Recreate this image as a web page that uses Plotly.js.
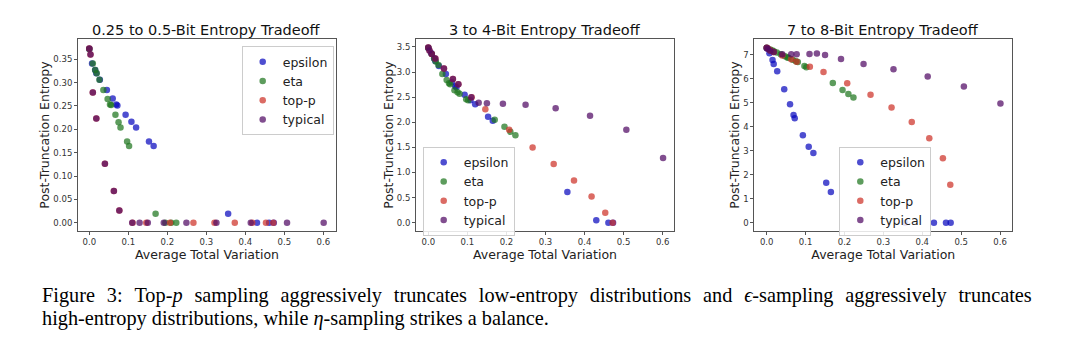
<!DOCTYPE html>
<html>
<head>
<meta charset="utf-8">
<script src="https://cdn.plot.ly/plotly-3.0.1.min.js"></script>
<style>html,body{margin:0;padding:0;background:#fff;}#chart{width:1080px;height:358px;}</style>
</head>
<body>
<div id="chart"></div>
<script>
// Methods (legend labels)
const methods = ['epsilon', 'eta', 'top-p', 'typical'];
const panelTitles = ['0.25 to 0.5-Bit Entropy Tradeoff', '3 to 4-Bit Entropy Tradeoff', '7 to 8-Bit Entropy Tradeoff'];
const xAxisTitle = 'Average Total Variation';
const yAxisTitle = 'Post-Truncation Entropy';
// first caption line is justified in the original (wider word gaps), emulated with en + hair spaces
const captionLine1 = 'Figure 3: Top-<i>p</i> sampling aggressively truncates low-entropy distributions and <i>ϵ</i>-sampling aggressively truncates'.split(' ').join('\u2002\u200A');
const captionLine2 = 'high-entropy distributions, while <i>η</i>-sampling strikes a balance.';

// Average total variation (x) for each method's hyperparameter settings (shared by the three panels)
const epsilonX = [0.0, 0.007, 0.015, 0.018, 0.027, 0.045, 0.060, 0.069, 0.072, 0.093, 0.108, 0.120, 0.153, 0.165, 0.356, 0.430, 0.461, 0.473];
const etaX     = [0.0, 0.009, 0.015, 0.019, 0.026, 0.036, 0.047, 0.053, 0.056, 0.067, 0.075, 0.080, 0.097, 0.102, 0.170, 0.195, 0.210, 0.223];
const topPX    = [0.0, 0.003, 0.009, 0.018, 0.040, 0.063, 0.077, 0.111, 0.146, 0.207, 0.267, 0.321, 0.373, 0.418, 0.453, 0.472];
const typicalX = [0.0, 0.003, 0.009, 0.018, 0.040, 0.063, 0.077, 0.110, 0.129, 0.150, 0.191, 0.249, 0.326, 0.414, 0.507, 0.601];

// Post-truncation entropy: 0.25 to 0.5-bit bucket
const epsilonY1 = [0.372, 0.341, 0.327, 0.320, 0.306, 0.284, 0.266, 0.253, 0.251, 0.231, 0.216, 0.204, 0.174, 0.164, 0.019, 0.0, 0.0, 0.0];
const etaY1     = [0.372, 0.341, 0.327, 0.320, 0.306, 0.284, 0.265, 0.253, 0.252, 0.231, 0.215, 0.204, 0.174, 0.164, 0.019, 0.0, 0.0, 0.0];
const topPY1    = [0.373, 0.360, 0.279, 0.223, 0.126, 0.068, 0.026, 0.0, 0.0, 0.0, 0.0, 0.0, 0.0, 0.0, 0.0, 0.0];
const typicalY1 = [0.373, 0.360, 0.279, 0.223, 0.126, 0.068, 0.026, 0.0, 0.0, 0.0, 0.0, 0.0, 0.0, 0.0, 0.0, 0.0];

// Post-truncation entropy: 3 to 4-bit bucket
const epsilonY2 = [3.48, 3.38, 3.27, 3.22, 3.12, 2.96, 2.80, 2.72, 2.70, 2.55, 2.44, 2.36, 2.11, 2.03, 0.61, 0.05, 0.0, 0.0];
const etaY2     = [3.48, 3.36, 3.27, 3.21, 3.14, 2.96, 2.84, 2.78, 2.76, 2.64, 2.60, 2.57, 2.46, 2.44, 2.05, 1.91, 1.81, 1.74];
const topPY2    = [3.49, 3.43, 3.36, 3.27, 3.07, 2.86, 2.76, 2.50, 2.26, 1.85, 1.50, 1.17, 0.84, 0.52, 0.20, 0.0];
const typicalY2 = [3.49, 3.43, 3.36, 3.27, 3.07, 2.86, 2.76, 2.50, 2.39, 2.38, 2.37, 2.35, 2.28, 2.13, 1.85, 1.29];

// Post-truncation entropy: 7 to 8-bit bucket
const epsilonY3 = [7.28, 7.07, 6.79, 6.62, 6.32, 5.57, 4.94, 4.49, 4.36, 3.65, 3.17, 2.91, 1.67, 1.28, 0.0, 0.0, 0.0, 0.0];
const etaY3     = [7.30, 7.23, 7.19, 7.15, 7.10, 7.03, 6.95, 6.90, 6.88, 6.80, 6.74, 6.71, 6.54, 6.49, 5.83, 5.54, 5.37, 5.23];
const topPY3    = [7.30, 7.27, 7.20, 7.12, 6.98, 6.82, 6.72, 6.51, 6.29, 5.82, 5.34, 4.81, 4.20, 3.53, 2.69, 1.58];
const typicalY3 = [7.30, 7.25, 7.18, 7.12, 7.03, 7.03, 7.03, 7.04, 7.06, 7.00, 6.83, 6.62, 6.40, 6.10, 5.68, 4.98];

const yTickVals1 = [0, 0.05, 0.10, 0.15, 0.20, 0.25, 0.30, 0.35];
const yTickVals2 = [0, 0.5, 1.0, 1.5, 2.0, 2.5, 3.0, 3.5];
const yTickVals3 = [0, 1, 2, 3, 4, 5, 6, 7];
const xTickVals  = [0, 0.1, 0.2, 0.3, 0.4, 0.5, 0.6];

const colors = ['rgb(10,10,190)', 'rgb(30,118,30)', 'rgb(205,50,40)', 'rgb(80,10,100)'];

const xs = [epsilonX, etaX, topPX, typicalX];
const panelsY = [
  [epsilonY1, etaY1, topPY1, typicalY1],
  [epsilonY2, etaY2, topPY2, typicalY2],
  [epsilonY3, etaY3, topPY3, typicalY3]
];

const traces = [];
panelsY.forEach((ys, p) => {
  methods.forEach((m, i) => {
    traces.push({
      type: 'scatter', mode: 'markers', name: m,
      x: xs[i], y: ys[i],
      xaxis: p === 0 ? 'x' : 'x' + (p + 1),
      yaxis: p === 0 ? 'y' : 'y' + (p + 1),
      legend: p === 0 ? 'legend' : 'legend' + (p + 1),
      marker: {color: colors[i], size: 6.5, opacity: 0.72, line: {width: 0}},
      showlegend: true
    });
  });
});

const yDom = [1 - 231 / 358, 1 - 39 / 358];
const xDoms = [[78 / 1080, 336 / 1080], [416 / 1080, 674 / 1080], [754.3 / 1080, 1012.3 / 1080]];
const xRanges = [[-0.029, 0.6326], [-0.0315, 0.629], [-0.0319, 0.6315]];
const yRanges = [[-0.0178, 0.3934], [-0.165, 3.659], [-0.346, 7.667]];
const yTicks = [[yTickVals1, '.2f'], [yTickVals2, '.1f'], [yTickVals3, 'd']];

function axisBase() {
  return {
    showline: true, mirror: true, linecolor: '#555', linewidth: 1,
    ticks: 'outside', ticklen: 3, tickcolor: '#555', tickwidth: 1,
    showgrid: false, zeroline: false, automargin: false,
    tickfont: {family: 'DejaVu Sans', size: 8.5, color: '#333'}
  };
}

const layout = {
  width: 1080, height: 358,
  margin: {l: 0, r: 0, t: 0, b: 0},
  paper_bgcolor: '#fff', plot_bgcolor: '#fff',
  font: {family: 'DejaVu Sans', color: '#222'},
  annotations: []
};

for (let p = 0; p < 3; p++) {
  const sx = p === 0 ? '' : String(p + 1);
  layout['xaxis' + sx] = Object.assign(axisBase(), {
    domain: xDoms[p], range: xRanges[p], anchor: 'y' + sx,
    tickvals: xTickVals, tickformat: '.1f',
    title: {text: xAxisTitle, font: {family: 'DejaVu Sans', size: 12.5, color: '#222'}, standoff: 2}
  });
  layout['yaxis' + sx] = Object.assign(axisBase(), {
    domain: yDom, range: yRanges[p], anchor: 'x' + sx,
    tickvals: yTicks[p][0], tickformat: yTicks[p][1],
    title: {text: yAxisTitle, font: {family: 'DejaVu Sans', size: 12.5, color: '#222'}, standoff: 0}
  });
  layout.annotations.push({
    text: panelTitles[p], xref: 'paper', yref: 'paper',
    x: (xDoms[p][0] + xDoms[p][1]) / 2, y: 1 - 30 / 358,
    xanchor: 'center', yanchor: 'middle', showarrow: false,
    font: {family: 'DejaVu Sans', size: 14.5, color: '#111'}
  });
}

const legendBase = {
  font: {family: 'DejaVu Sans', size: 12.5, color: '#222'},
  bgcolor: 'rgba(255,255,255,0.85)', bordercolor: '#ccc', borderwidth: 1,
  xanchor: 'left', yanchor: 'top', tracegroupgap: 0
};
layout.legend  = Object.assign({}, legendBase, {x: 241.7 / 1080, y: 1 - 46 / 358});
layout.legend2 = Object.assign({}, legendBase, {x: 422.7 / 1080, y: 1 - 146.7 / 358});
layout.legend3 = Object.assign({}, legendBase, {x: 839.3 / 1080, y: 1 - 146.7 / 358});

const captionFont = {family: 'Liberation Serif', size: 20.3, color: '#000'};
layout.annotations.push({
  text: captionLine1, xref: 'paper', yref: 'paper', x: 40 / 1080, y: 1 - 295 / 358,
  xanchor: 'left', yanchor: 'middle', showarrow: false, font: captionFont
});
layout.annotations.push({
  text: captionLine2, xref: 'paper', yref: 'paper', x: 40 / 1080, y: 1 - 318 / 358,
  xanchor: 'left', yanchor: 'middle', showarrow: false, font: captionFont
});

Plotly.newPlot('chart', traces, layout, {staticPlot: true, displayModeBar: false});
</script>
</body>
</html>
